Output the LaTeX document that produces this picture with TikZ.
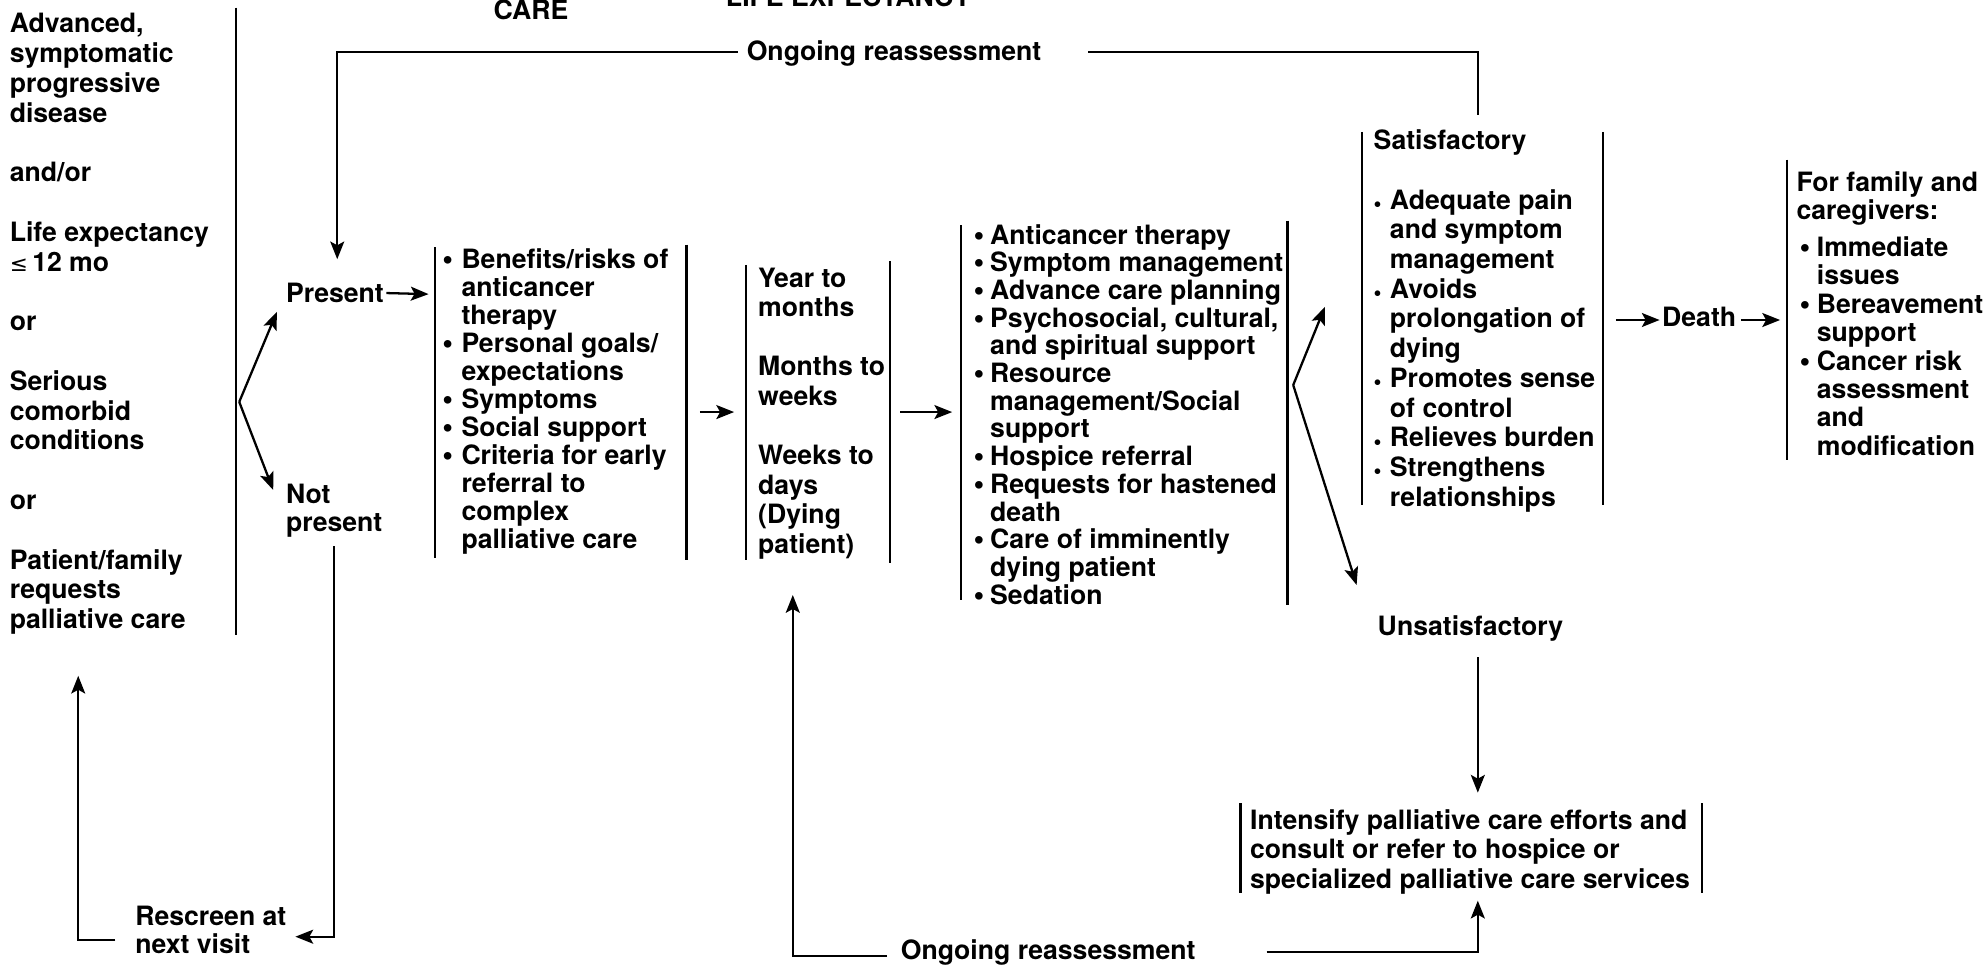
\documentclass[tikz,border=0pt]{standalone}
\usepackage{fontspec}
\usepackage{graphicx}
\setmainfont{TeX Gyre Heros}
\newfontfamily\symfont{DejaVu Sans}
\usetikzlibrary{arrows.meta}

% bullet marks and hanging gaps for the item lists
\newcommand\bulletmark[1]{\makebox[#1][l]{\raisebox{-0.8pt}{\scalebox{1.15}{\textbullet}}}}
\newcommand\smallbulletmark[1]{\makebox[#1][l]{\raisebox{-2pt}{\scalebox{0.85}{\textbullet}}}}
\newcommand\bulletgap[1]{\hspace*{#1}}

\begin{document}
\begin{tikzpicture}[x=1pt,y=-1pt,
  lead/.style={font=\bfseries\fontsize{21}{#1}\selectfont},
  % multi-line texts are placed by the baseline of their last line
  txt/.style={inner sep=0pt, outer sep=0pt, anchor=base west, align=left, lead=23.5},
  bar/.style={line width=1.7pt},
  conn/.style={line width=1.8pt},
  arr/.style={conn, -{Stealth[length=14pt,width=11pt,inset=3pt]}},
]
\fill[white] (0,0) rectangle (1568,762);
\useasboundingbox (0,0) rectangle (1568,762);
\clip (0,0) rectangle (1568,762);

% headings, partly above the frame
\node[txt] (care)  at (389.4,15.2) {CARE};
\node[txt] (lifex) at (572.6,5) {LIFE EXPECTANCY};

% screening criteria
\node[txt, lead=23.5] (crit) at (7.7,495.8) {Advanced,\\ symptomatic\\ progressive\\ disease\\[23.5pt]
  and/or\\[23.5pt] Life expectancy\\ {\symfont\mdseries\fontsize{17}{20}\selectfont ≤}\,12 mo\\[23.5pt]
  or\\[23.5pt] Serious\\ comorbid\\ conditions\\[23.5pt] or\\[23.5pt]
  Patient/family\\ requests\\ palliative care};
\coordinate (critTop) at (186,6);
\coordinate (critBot) at (186,500.8);
\draw[bar] (critTop) -- (critBot);

% present / not present
\node[txt] (pres) at (225.6,238.7) {Present};
\node[txt, lead=22.5] (notp) at (225.6,419.5) {Not\\ present};
\coordinate (forkA) at (188.7,317);
\coordinate (presIn) at (218.4,246);
\coordinate (notpIn) at (215.5,386.5);
\draw[arr] (forkA) -- (presIn);
\draw[arr] (forkA) -- (notpIn);

% assessment box
\node[txt, lead=22.1] (assess) at (349,432.6) {\bulletmark{15pt}Benefits/risks of\\ \bulletgap{15pt}anticancer\\
  \bulletgap{15pt}therapy\\ \bulletmark{15pt}Personal goals/\\ \bulletgap{15pt}expectations\\
  \bulletmark{15pt}Symptoms\\ \bulletmark{15pt}Social support\\ \bulletmark{15pt}Criteria for early\\
  \bulletgap{15pt}referral to\\ \bulletgap{15pt}complex\\ \bulletgap{15pt}palliative care};
\draw[bar] (343,195) -- (343,440);
\draw[bar] (541.5,193) -- (541.5,441.7);
\coordinate (assessIn) at (338,232);
\draw[arr] (pres.east) ++(2pt,0) -- (assessIn);

% time frame box
\node[txt, lead=23.3] (years) at (598,436.3) {Year to\\ months\\[23.3pt] Months to\\ weeks\\[23.3pt]
  Weeks to\\ days\\ (Dying\\ patient)};
\draw[bar] (588.5,209) -- (588.5,441.7);
\draw[bar] (702,206) -- (702,444);
\coordinate (assessOut) at (552,325);
\coordinate (yearsIn) at (579,325);
\draw[arr] (assessOut) -- (yearsIn);

% interventions box
\node[txt, lead=21.85] (care2) at (768,476.5) {\bulletmark{13pt}Anticancer therapy\\
  \bulletmark{13pt}Symptom management\\ \bulletmark{13pt}Advance care planning\\
  \bulletmark{13pt}Psychosocial, cultural,\\ \bulletgap{13pt}and spiritual support\\
  \bulletmark{13pt}Resource\\ \bulletgap{13pt}management/Social\\ \bulletgap{13pt}support\\
  \bulletmark{13pt}Hospice referral\\ \bulletmark{13pt}Requests for hastened\\ \bulletgap{13pt}death\\
  \bulletmark{13pt}Care of imminently\\ \bulletgap{13pt}dying patient\\ \bulletmark{13pt}Sedation};
\draw[bar] (758,177.5) -- (758,473);
\draw[bar] (1015.5,174) -- (1015.5,477);
\coordinate (yearsOut) at (710,325);
\coordinate (care2In) at (751,325);
\draw[arr] (yearsOut) -- (care2In);

% outcome fork
\coordinate (forkB) at (1020,303.7);
\coordinate (satIn) at (1045,242);
\coordinate (unsatIn) at (1070,461.4);
\draw[arr] (forkB) -- (satIn);
\draw[arr] (forkB) -- (unsatIn);

% satisfactory box
\node[txt, lead=23.4] (sat) at (1083.5,399.1) {Satisfactory\\[23.4pt]
  \smallbulletmark{12.8pt}Adequate pain\\ \bulletgap{12.8pt}and symptom\\ \bulletgap{12.8pt}management\\
  \smallbulletmark{12.8pt}Avoids\\ \bulletgap{12.8pt}prolongation of\\ \bulletgap{12.8pt}dying\\
  \smallbulletmark{12.8pt}Promotes sense\\ \bulletgap{12.8pt}of control\\
  \smallbulletmark{12.8pt}Relieves burden\\ \smallbulletmark{12.8pt}Strengthens\\ \bulletgap{12.8pt}relationships};
\draw[bar] (1074,104) -- (1074,398.3);
\draw[bar] (1264,104) -- (1264,398.3);

% death and aftercare
\node[txt] (death) at (1311,257.7) {Death};
\node[txt, lead=22.4] (fam) at (1417,359.1) {For family and\\ caregivers:\\[6.5pt]
  \bulletgap{2.5pt}\bulletmark{13.5pt}Immediate\\ \bulletgap{16pt}issues\\
  \bulletgap{2.5pt}\bulletmark{13.5pt}Bereavement\\ \bulletgap{16pt}support\\
  \bulletgap{2.5pt}\bulletmark{13.5pt}Cancer risk\\ \bulletgap{16pt}assessment\\
  \bulletgap{16pt}and\\ \bulletgap{16pt}modification};
\draw[bar] (1409.5,126) -- (1409.5,363);
\coordinate (satOut) at (1274.5,252.4);
\coordinate (deathIn) at (1309,252.4);
\coordinate (deathOut) at (1373,252.4);
\coordinate (famIn) at (1404,252.4);
\draw[arr] (satOut) -- (deathIn);
\draw[arr] (deathOut) -- (famIn);

% unsatisfactory branch
\node[txt] (unsat) at (1086.6,501.6) {Unsatisfactory};
\node[txt, lead=22.9] (intens) at (986,700.4) {Intensify palliative care efforts and\\
  consult or refer to hospice or\\ specialized palliative care services};
\draw[bar] (978.4,633.6) -- (978.4,704.6);
\draw[bar] (1342.4,633.6) -- (1342.4,704.6);
\coordinate (unsatOut) at (1165.6,518.3);
\coordinate (intensIn) at (1165.6,625.2);
\draw[arr] (unsatOut) -- (intensIn);

% upper reassessment loop
\node[txt] (reassA) at (589,47.5) {Ongoing reassessment};
\coordinate (satTop) at (1165.5,90.7);
\coordinate (reassAR) at (858.5,40.8);
\coordinate (reassAL) at (582,40.8);
\coordinate (presTop) at (266,204.5);
\draw[conn] (satTop) |- (reassAR);
\draw[arr] (reassAL) -| (presTop);

% lower reassessment loop
\node[txt] (reassB) at (710.6,757) {Ongoing reassessment};
\coordinate (reassBR) at (999,751);
\coordinate (reassBL) at (699.6,754);
\coordinate (intensBot) at (1165.6,710.4);
\coordinate (yearsBot) at (625.3,469.3);
\draw[arr] (reassBR) -| (intensBot);
\draw[arr] (reassBL) -| (yearsBot);

% rescreen loop
\node[txt, lead=22.2] (resc) at (106.7,751.8) {Rescreen at\\ next visit};
\coordinate (notpOut) at (263.4,431);
\coordinate (rescIn) at (233,738.8);
\coordinate (rescOut) at (91,741.4);
\coordinate (critIn) at (61.7,533);
\draw[arr] (notpOut) |- (rescIn);
\draw[arr] (rescOut) -| (critIn);
\end{tikzpicture}
\end{document}
